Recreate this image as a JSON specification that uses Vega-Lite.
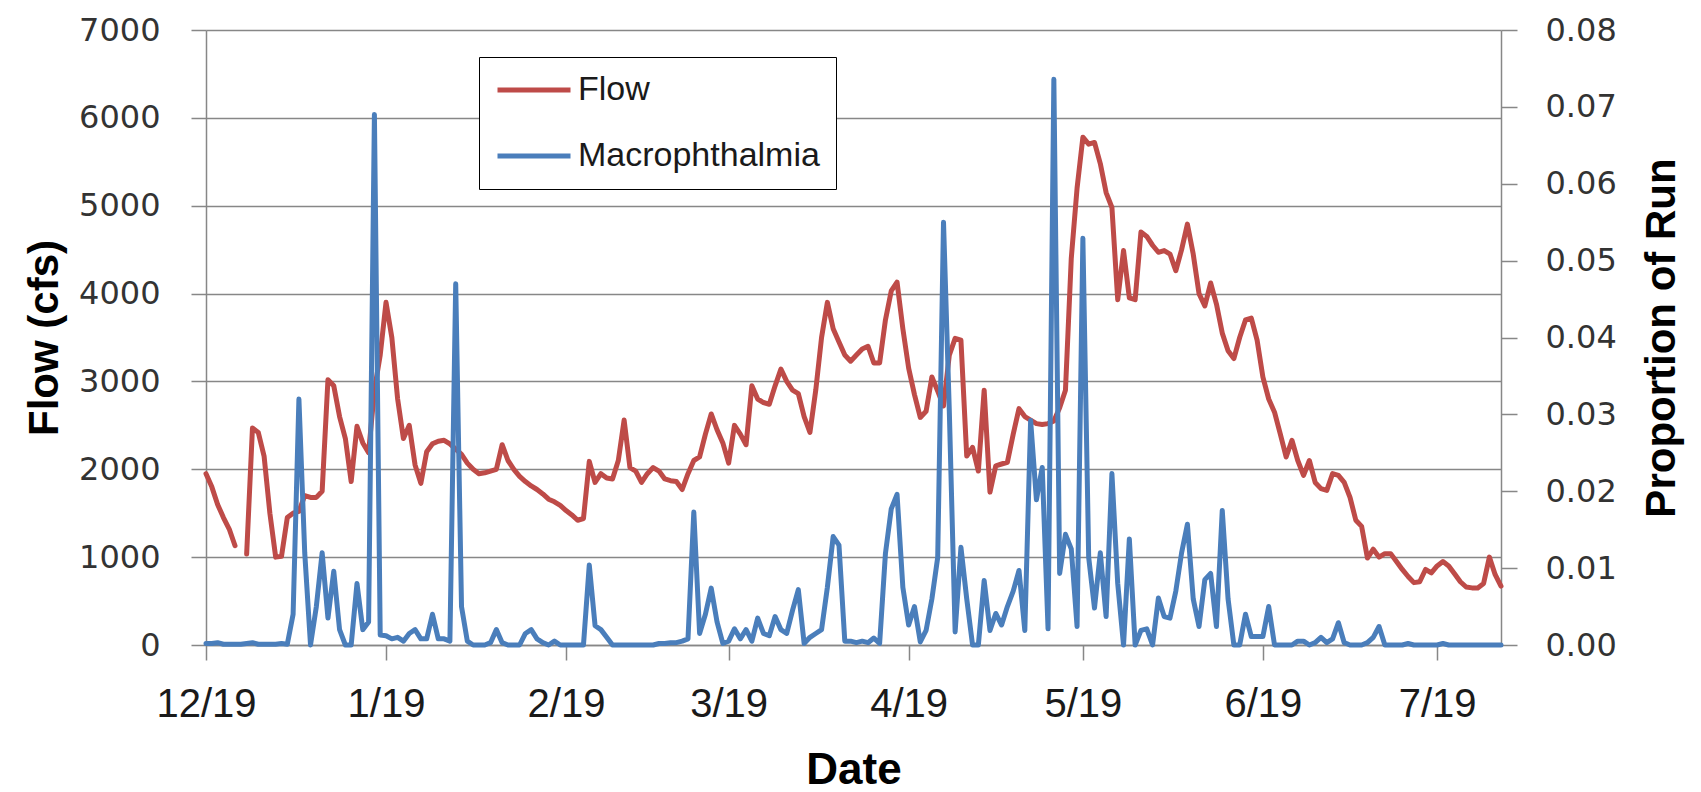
{
  "$schema": "https://vega.github.io/schema/vega-lite/v6.json",
  "width": 1295,
  "height": 615,
  "autosize": "none",
  "padding": {"left": 206, "top": 30, "right": 200, "bottom": 147},
  "background": "white",
  "config": {"view": {"stroke": null}},
  "data": {"values": [
    {"date":"2018-12-19","flow":1950,"prop":0.0002},{"date":"2018-12-20","flow":1800,"prop":0.0002},{"date":"2018-12-21","flow":1600,"prop":0.0003},{"date":"2018-12-22","flow":1450,"prop":0.0001},{"date":"2018-12-23","flow":1320,"prop":0.0001},{"date":"2018-12-24","flow":1130,"prop":0.0001},{"date":"2018-12-25","flow":null,"prop":0.0001},{"date":"2018-12-26","flow":1035,"prop":0.0002},{"date":"2018-12-27","flow":2470,"prop":0.0003},{"date":"2018-12-28","flow":2420,"prop":0.0001},{"date":"2018-12-29","flow":2150,"prop":0.0001},{"date":"2018-12-30","flow":1500,"prop":0.0001},{"date":"2018-12-31","flow":1000,"prop":0.0001},
    {"date":"2019-01-01","flow":1010,"prop":0.0002},{"date":"2019-01-02","flow":1450,"prop":0.0001},{"date":"2019-01-03","flow":1500,"prop":0.004},{"date":"2019-01-04","flow":1520,"prop":0.032},{"date":"2019-01-05","flow":1700,"prop":0.012},{"date":"2019-01-06","flow":1680,"prop":0},{"date":"2019-01-07","flow":1680,"prop":0.005},{"date":"2019-01-08","flow":1750,"prop":0.012},{"date":"2019-01-09","flow":3020,"prop":0.0035},{"date":"2019-01-10","flow":2950,"prop":0.0096},{"date":"2019-01-11","flow":2600,"prop":0.002},{"date":"2019-01-12","flow":2350,"prop":0},{"date":"2019-01-13","flow":1860,"prop":0},{"date":"2019-01-14","flow":2490,"prop":0.008},{"date":"2019-01-15","flow":2300,"prop":0.002},{"date":"2019-01-16","flow":2190,"prop":0.003},{"date":"2019-01-17","flow":2900,"prop":0.069},{"date":"2019-01-18","flow":3300,"prop":0.0013},{"date":"2019-01-19","flow":3900,"prop":0.0012},{"date":"2019-01-20","flow":3500,"prop":0.0008},{"date":"2019-01-21","flow":2800,"prop":0.001},{"date":"2019-01-22","flow":2350,"prop":0.0005},{"date":"2019-01-23","flow":2500,"prop":0.0015},{"date":"2019-01-24","flow":2050,"prop":0.002},{"date":"2019-01-25","flow":1840,"prop":0.0008},{"date":"2019-01-26","flow":2200,"prop":0.0008},{"date":"2019-01-27","flow":2290,"prop":0.004},{"date":"2019-01-28","flow":2320,"prop":0.0008},{"date":"2019-01-29","flow":2330,"prop":0.0008},{"date":"2019-01-30","flow":2290,"prop":0.0005},{"date":"2019-01-31","flow":2230,"prop":0.047},
    {"date":"2019-02-01","flow":2170,"prop":0.005},{"date":"2019-02-02","flow":2070,"prop":0.0005},{"date":"2019-02-03","flow":2000,"prop":0},{"date":"2019-02-04","flow":1950,"prop":0},{"date":"2019-02-05","flow":1960,"prop":0},{"date":"2019-02-06","flow":1980,"prop":0.0003},{"date":"2019-02-07","flow":2000,"prop":0.002},{"date":"2019-02-08","flow":2280,"prop":0.0003},{"date":"2019-02-09","flow":2100,"prop":0},{"date":"2019-02-10","flow":2000,"prop":0},{"date":"2019-02-11","flow":1920,"prop":0},{"date":"2019-02-12","flow":1860,"prop":0.0015},{"date":"2019-02-13","flow":1810,"prop":0.002},{"date":"2019-02-14","flow":1770,"prop":0.0008},{"date":"2019-02-15","flow":1720,"prop":0.0003},{"date":"2019-02-16","flow":1660,"prop":0},{"date":"2019-02-17","flow":1630,"prop":0.0005},{"date":"2019-02-18","flow":1590,"prop":0},{"date":"2019-02-19","flow":1530,"prop":0},{"date":"2019-02-20","flow":1480,"prop":0},{"date":"2019-02-21","flow":1420,"prop":0},{"date":"2019-02-22","flow":1440,"prop":0},{"date":"2019-02-23","flow":2090,"prop":0.0104},{"date":"2019-02-24","flow":1850,"prop":0.0025},{"date":"2019-02-25","flow":1950,"prop":0.002},{"date":"2019-02-26","flow":1900,"prop":0.001},{"date":"2019-02-27","flow":1890,"prop":0},{"date":"2019-02-28","flow":2100,"prop":0},
    {"date":"2019-03-01","flow":2560,"prop":0},{"date":"2019-03-02","flow":2020,"prop":0},{"date":"2019-03-03","flow":1980,"prop":0},{"date":"2019-03-04","flow":1850,"prop":0},{"date":"2019-03-05","flow":1950,"prop":0},{"date":"2019-03-06","flow":2020,"prop":0},{"date":"2019-03-07","flow":1980,"prop":0.0002},{"date":"2019-03-08","flow":1890,"prop":0.0002},{"date":"2019-03-09","flow":1870,"prop":0.0003},{"date":"2019-03-10","flow":1860,"prop":0.0003},{"date":"2019-03-11","flow":1770,"prop":0.0005},{"date":"2019-03-12","flow":1950,"prop":0.0008},{"date":"2019-03-13","flow":2100,"prop":0.0173},{"date":"2019-03-14","flow":2140,"prop":0.0015},{"date":"2019-03-15","flow":2400,"prop":0.004},{"date":"2019-03-16","flow":2630,"prop":0.0074},{"date":"2019-03-17","flow":2450,"prop":0.003},{"date":"2019-03-18","flow":2300,"prop":0.0002},{"date":"2019-03-19","flow":2070,"prop":0.0005},{"date":"2019-03-20","flow":2500,"prop":0.0021},{"date":"2019-03-21","flow":2400,"prop":0.0008},{"date":"2019-03-22","flow":2280,"prop":0.002},{"date":"2019-03-23","flow":2950,"prop":0.0005},{"date":"2019-03-24","flow":2800,"prop":0.0035},{"date":"2019-03-25","flow":2760,"prop":0.0015},{"date":"2019-03-26","flow":2740,"prop":0.0012},{"date":"2019-03-27","flow":2950,"prop":0.0037},{"date":"2019-03-28","flow":3140,"prop":0.002},{"date":"2019-03-29","flow":3000,"prop":0.0015},{"date":"2019-03-30","flow":2900,"prop":0.0045},{"date":"2019-03-31","flow":2860,"prop":0.0072},
    {"date":"2019-04-01","flow":2600,"prop":0.0002},{"date":"2019-04-02","flow":2420,"prop":0.001},{"date":"2019-04-03","flow":2900,"prop":0.0015},{"date":"2019-04-04","flow":3500,"prop":0.002},{"date":"2019-04-05","flow":3900,"prop":0.0075},{"date":"2019-04-06","flow":3600,"prop":0.0141},{"date":"2019-04-07","flow":3450,"prop":0.013},{"date":"2019-04-08","flow":3300,"prop":0.0005},{"date":"2019-04-09","flow":3230,"prop":0.0005},{"date":"2019-04-10","flow":3300,"prop":0.0003},{"date":"2019-04-11","flow":3370,"prop":0.0005},{"date":"2019-04-12","flow":3400,"prop":0.0003},{"date":"2019-04-13","flow":3210,"prop":0.0009},{"date":"2019-04-14","flow":3210,"prop":0.0002},{"date":"2019-04-15","flow":3700,"prop":0.0119},{"date":"2019-04-16","flow":4030,"prop":0.0177},{"date":"2019-04-17","flow":4130,"prop":0.0196},{"date":"2019-04-18","flow":3600,"prop":0.0075},{"date":"2019-04-19","flow":3150,"prop":0.0026},{"date":"2019-04-20","flow":2850,"prop":0.005},{"date":"2019-04-21","flow":2590,"prop":0.0004},{"date":"2019-04-22","flow":2660,"prop":0.0019},{"date":"2019-04-23","flow":3050,"prop":0.006},{"date":"2019-04-24","flow":2890,"prop":0.0114},{"date":"2019-04-25","flow":2720,"prop":0.055},{"date":"2019-04-26","flow":3300,"prop":0.0304},{"date":"2019-04-27","flow":3490,"prop":0.0017},{"date":"2019-04-28","flow":3470,"prop":0.0127},{"date":"2019-04-29","flow":2150,"prop":0.006},{"date":"2019-04-30","flow":2250,"prop":0},
    {"date":"2019-05-01","flow":1980,"prop":0},{"date":"2019-05-02","flow":2900,"prop":0.0084},{"date":"2019-05-03","flow":1740,"prop":0.0019},{"date":"2019-05-04","flow":2040,"prop":0.0041},{"date":"2019-05-05","flow":2060,"prop":0.0026},{"date":"2019-05-06","flow":2080,"prop":0.005},{"date":"2019-05-07","flow":2400,"prop":0.007},{"date":"2019-05-08","flow":2690,"prop":0.0097},{"date":"2019-05-09","flow":2600,"prop":0.0019},{"date":"2019-05-10","flow":2560,"prop":0.0292},{"date":"2019-05-11","flow":2520,"prop":0.0189},{"date":"2019-05-12","flow":2510,"prop":0.0231},{"date":"2019-05-13","flow":2520,"prop":0.0021},{"date":"2019-05-14","flow":2550,"prop":0.0736},{"date":"2019-05-15","flow":2700,"prop":0.0093},{"date":"2019-05-16","flow":2900,"prop":0.0144},{"date":"2019-05-17","flow":4400,"prop":0.0125},{"date":"2019-05-18","flow":5200,"prop":0.0024},{"date":"2019-05-19","flow":5780,"prop":0.0529},{"date":"2019-05-20","flow":5700,"prop":0.0114},{"date":"2019-05-21","flow":5720,"prop":0.0048},{"date":"2019-05-22","flow":5480,"prop":0.012},{"date":"2019-05-23","flow":5150,"prop":0.0037},{"date":"2019-05-24","flow":4980,"prop":0.0223},{"date":"2019-05-25","flow":3930,"prop":0.008},{"date":"2019-05-26","flow":4490,"prop":0},{"date":"2019-05-27","flow":3950,"prop":0.0138},{"date":"2019-05-28","flow":3930,"prop":0},{"date":"2019-05-29","flow":4700,"prop":0.0019},{"date":"2019-05-30","flow":4650,"prop":0.0021},{"date":"2019-05-31","flow":4550,"prop":0},
    {"date":"2019-06-01","flow":4470,"prop":0.0061},{"date":"2019-06-02","flow":4490,"prop":0.0037},{"date":"2019-06-03","flow":4450,"prop":0.0035},{"date":"2019-06-04","flow":4260,"prop":0.007},{"date":"2019-06-05","flow":4500,"prop":0.012},{"date":"2019-06-06","flow":4790,"prop":0.0157},{"date":"2019-06-07","flow":4450,"prop":0.006},{"date":"2019-06-08","flow":4000,"prop":0.0024},{"date":"2019-06-09","flow":3860,"prop":0.0085},{"date":"2019-06-10","flow":4120,"prop":0.0093},{"date":"2019-06-11","flow":3880,"prop":0.0024},{"date":"2019-06-12","flow":3550,"prop":0.0175},{"date":"2019-06-13","flow":3350,"prop":0.006},{"date":"2019-06-14","flow":3260,"prop":0},{"date":"2019-06-15","flow":3500,"prop":0},{"date":"2019-06-16","flow":3700,"prop":0.004},{"date":"2019-06-17","flow":3720,"prop":0.0011},{"date":"2019-06-18","flow":3470,"prop":0.0011},{"date":"2019-06-19","flow":3050,"prop":0.0011},{"date":"2019-06-20","flow":2800,"prop":0.005},{"date":"2019-06-21","flow":2650,"prop":0},{"date":"2019-06-22","flow":2400,"prop":0},{"date":"2019-06-23","flow":2140,"prop":0},{"date":"2019-06-24","flow":2330,"prop":0},{"date":"2019-06-25","flow":2100,"prop":0.0005},{"date":"2019-06-26","flow":1930,"prop":0.0005},{"date":"2019-06-27","flow":2100,"prop":0},{"date":"2019-06-28","flow":1850,"prop":0.0003},{"date":"2019-06-29","flow":1780,"prop":0.001},{"date":"2019-06-30","flow":1760,"prop":0.0003},
    {"date":"2019-07-01","flow":1950,"prop":0.0008},{"date":"2019-07-02","flow":1930,"prop":0.0029},{"date":"2019-07-03","flow":1850,"prop":0.0003},{"date":"2019-07-04","flow":1680,"prop":0},{"date":"2019-07-05","flow":1420,"prop":0},{"date":"2019-07-06","flow":1350,"prop":0},{"date":"2019-07-07","flow":990,"prop":0.0003},{"date":"2019-07-08","flow":1090,"prop":0.001},{"date":"2019-07-09","flow":1000,"prop":0.0024},{"date":"2019-07-10","flow":1040,"prop":0},{"date":"2019-07-11","flow":1040,"prop":0},{"date":"2019-07-12","flow":950,"prop":0},{"date":"2019-07-13","flow":860,"prop":0},{"date":"2019-07-14","flow":780,"prop":0.0002},{"date":"2019-07-15","flow":710,"prop":0},{"date":"2019-07-16","flow":720,"prop":0},{"date":"2019-07-17","flow":860,"prop":0},{"date":"2019-07-18","flow":820,"prop":0},{"date":"2019-07-19","flow":900,"prop":0},{"date":"2019-07-20","flow":950,"prop":0.0002},{"date":"2019-07-21","flow":900,"prop":0},{"date":"2019-07-22","flow":810,"prop":0},{"date":"2019-07-23","flow":720,"prop":0},{"date":"2019-07-24","flow":660,"prop":0},{"date":"2019-07-25","flow":650,"prop":0},{"date":"2019-07-26","flow":650,"prop":0},{"date":"2019-07-27","flow":700,"prop":0},{"date":"2019-07-28","flow":1000,"prop":0},{"date":"2019-07-29","flow":800,"prop":0},{"date":"2019-07-30","flow":670,"prop":0}
  ]},
  "encoding": {
    "x": {
      "field": "date", "type": "temporal",
      "scale": {"type": "utc", "domain": [{"year": 2018, "month": 12, "date": 19, "utc": true}, {"year": 2019, "month": 7, "date": 30, "utc": true}]},
      "axis": {
        "values": [
          {"year": 2018, "month": 12, "date": 19, "utc": true},
          {"year": 2019, "month": 1, "date": 19, "utc": true},
          {"year": 2019, "month": 2, "date": 19, "utc": true},
          {"year": 2019, "month": 3, "date": 19, "utc": true},
          {"year": 2019, "month": 4, "date": 19, "utc": true},
          {"year": 2019, "month": 5, "date": 19, "utc": true},
          {"year": 2019, "month": 6, "date": 19, "utc": true},
          {"year": 2019, "month": 7, "date": 19, "utc": true}
        ],
        "labelExpr": "(utcmonth(datum.value) + 1) + '/' + utcdate(datum.value)",
        "grid": false, "domain": true, "domainColor": "#878787", "domainWidth": 1.5,
        "ticks": true, "tickSize": 15, "tickColor": "#878787", "tickWidth": 1.5,
        "labelFlush": false, "labelOverlap": false, "labelBound": false,
        "labelFont": "Liberation Sans", "labelFontSize": 40, "labelColor": "#1a1a1a", "labelPadding": 24,
        "title": "Date", "titleFont": "Liberation Sans", "titleFontSize": 44, "titleFontWeight": "bold", "titleColor": "#000000",
        "titleX": 647.5, "titleY": 125, "titleBaseline": "middle", "titleAlign": "center"
      }
    }
  },
  "layer": [
    {
      "mark": {"type": "line", "strokeWidth": 5, "strokeJoin": "round", "strokeCap": "round"},
      "encoding": {
        "y": {
          "field": "flow", "type": "quantitative",
          "scale": {"domain": [0, 7000], "nice": false, "zero": true},
          "axis": {
            "values": [0, 1000, 2000, 3000, 4000, 5000, 6000, 7000], "format": "d",
            "grid": true, "gridColor": "#878787", "gridWidth": 1.5,
            "domain": true, "domainColor": "#878787", "domainWidth": 1.5,
            "ticks": true, "tickSize": 15, "tickColor": "#878787", "tickWidth": 1.5,
            "labelFont": "DejaVu Sans", "labelFontSize": 32, "labelColor": "#333333", "labelPadding": 31,
            "title": "Flow (cfs)", "titleFont": "Liberation Sans", "titleFontSize": 42, "titleFontWeight": "bold", "titleColor": "#000000",
            "titleAngle": -90, "titleX": -162, "titleY": 307.5, "titleAlign": "center", "titleBaseline": "middle"
          }
        },
        "color": {
          "datum": "Flow", "type": "nominal",
          "scale": {"domain": ["Flow", "Macrophthalmia"], "range": ["#BE4B48", "#4A7EBB"]},
          "legend": {
            "orient": "none", "legendX": 273, "legendY": 27, "title": null,
            "symbolType": "stroke", "symbolSize": 5329, "symbolStrokeWidth": 5,
            "labelFont": "Liberation Sans", "labelFontSize": 34, "labelColor": "#1a1a1a", "labelOffset": 5, "labelLimit": 500,
            "padding": 16, "strokeColor": "#000000", "fillColor": "#ffffff",
            "clipHeight": 34, "rowPadding": 32
          }
        }
      }
    },
    {
      "mark": {"type": "line", "strokeWidth": 5, "strokeJoin": "round", "strokeCap": "round"},
      "encoding": {
        "y": {
          "field": "prop", "type": "quantitative",
          "scale": {"domain": [0, 0.08], "nice": false},
          "axis": {
            "orient": "right",
            "values": [0, 0.01, 0.02, 0.03, 0.04, 0.05, 0.06, 0.07, 0.08], "format": ".2f",
            "grid": false,
            "domain": true, "domainColor": "#878787", "domainWidth": 1.5,
            "ticks": true, "tickSize": 16, "tickColor": "#878787", "tickWidth": 1.5,
            "labelFont": "DejaVu Sans", "labelFontSize": 32, "labelColor": "#333333", "labelPadding": 28,
            "title": "Proportion of Run", "titleFont": "Liberation Sans", "titleFontSize": 42, "titleFontWeight": "bold", "titleColor": "#000000",
            "titleAngle": -90, "titleX": 160, "titleY": 307.5, "titleAlign": "center", "titleBaseline": "middle"
          }
        },
        "color": {"datum": "Macrophthalmia", "type": "nominal"}
      }
    }
  ],
  "resolve": {"scale": {"y": "independent"}}
}
